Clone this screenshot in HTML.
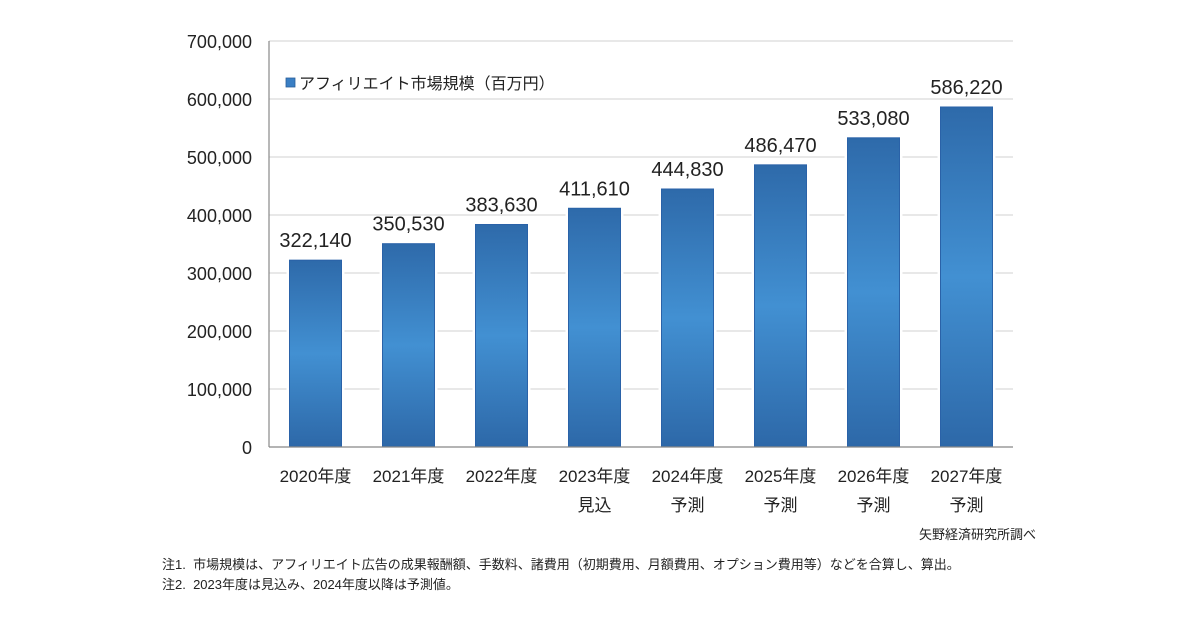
<!DOCTYPE html>
<html><head><meta charset="utf-8"><style>
body{margin:0;background:#fff;}
svg text{font-family:"Liberation Sans","Noto Sans CJK JP",sans-serif;}
</style></head><body>
<svg width="1200" height="630" xmlns="http://www.w3.org/2000/svg">
<defs>
<linearGradient id="bg" x1="0" y1="0" x2="0" y2="1">
<stop offset="0" stop-color="#2e6aaa"/><stop offset="0.5" stop-color="#4290d2"/><stop offset="1" stop-color="#2d68a8"/>
</linearGradient>
</defs>
<g id="grid"></g>
<g id="yt"></g>
<g id="bars"></g>
<line x1="269" y1="41" x2="269" y2="447" stroke="#888" stroke-width="1.2"/>
<line x1="269" y1="447" x2="1013" y2="447" stroke="#888" stroke-width="1.2"/>
<g>
<rect x="286" y="78" width="9" height="9" fill="#3a7fc4" stroke="#2a5f9a" stroke-width="0.8"/>
<text x="299" y="89" font-size="16" fill="#222">アフィリエイト市場規模（百万円）</text>
</g>
<g id="xl"></g>
<text x="1036" y="539" font-size="13" fill="#222" text-anchor="end">矢野経済研究所調べ</text>
<text x="162" y="569" font-size="13" fill="#222">注1.&#160;&#160;市場規模は、アフィリエイト広告の成果報酬額、手数料、諸費用（初期費用、月額費用、オプション費用等）などを合算し、算出。</text>
<text x="162" y="589" font-size="13" fill="#222">注2.&#160;&#160;2023年度は見込み、2024年度以降は予測値。</text>
</svg>
<script>
const categories=["2020年度","2021年度","2022年度","2023年度","2024年度","2025年度","2026年度","2027年度"];
const subLabels=["","","","見込","予測","予測","予測","予測"];
const values=[322140,350530,383630,411610,444830,486470,533080,586220];
const yTicks=[0,100000,200000,300000,400000,500000,600000,700000];
const ns="http://www.w3.org/2000/svg";
const x0=269,x1=1013,yb=447,yt=41,ymax=700000;
const y=v=>yb-(yb-yt)*v/ymax;
const bw=(x1-x0)/categories.length, barW=52;
const cx=i=>x0+bw*(i+0.5);
function mk(t,a,p){const e=document.createElementNS(ns,t);for(const k in a)e.setAttribute(k,a[k]);p.appendChild(e);return e;}
const fmt=v=>v.toLocaleString("en-US");
const G=document.getElementById("grid"),YT=document.getElementById("yt"),B=document.getElementById("bars"),XL=document.getElementById("xl");
yTicks.forEach(v=>{
 if(v>0){const l=mk("line",{x1:x0,x2:x1,y1:y(v),y2:y(v),stroke:"#d9d9d9","stroke-width":1.3},G);
 
 }
 const t=mk("text",{x:252,y:y(v)+7,"font-size":18,"text-anchor":"end",fill:"#222"},YT);t.textContent=fmt(v);
 
 
});
values.forEach((v,i)=>{
 const c=cx(i);
 mk("rect",{x:c-barW/2-3,y:y(v),width:barW+6,height:yb-y(v),fill:"#fff"},B);
 const r=mk("rect",{x:c-barW/2,y:y(v),width:barW,height:yb-y(v),fill:"url(#bg)",stroke:"#2a62a8","stroke-width":1},B);
 
 
 const t=mk("text",{x:c,y:y(v)-13,"font-size":20,"text-anchor":"middle",fill:"#222"},B);t.textContent=fmt(v);
 
 
 const a=mk("text",{x:c,y:482,"font-size":17,"text-anchor":"middle",fill:"#222"},XL);a.textContent=categories[i];
 
 
 if(subLabels[i]){const s=mk("text",{x:c,y:511,"font-size":17,"text-anchor":"middle",fill:"#222"},XL);s.textContent=subLabels[i];
 
 }
});
</script>
</body></html>
